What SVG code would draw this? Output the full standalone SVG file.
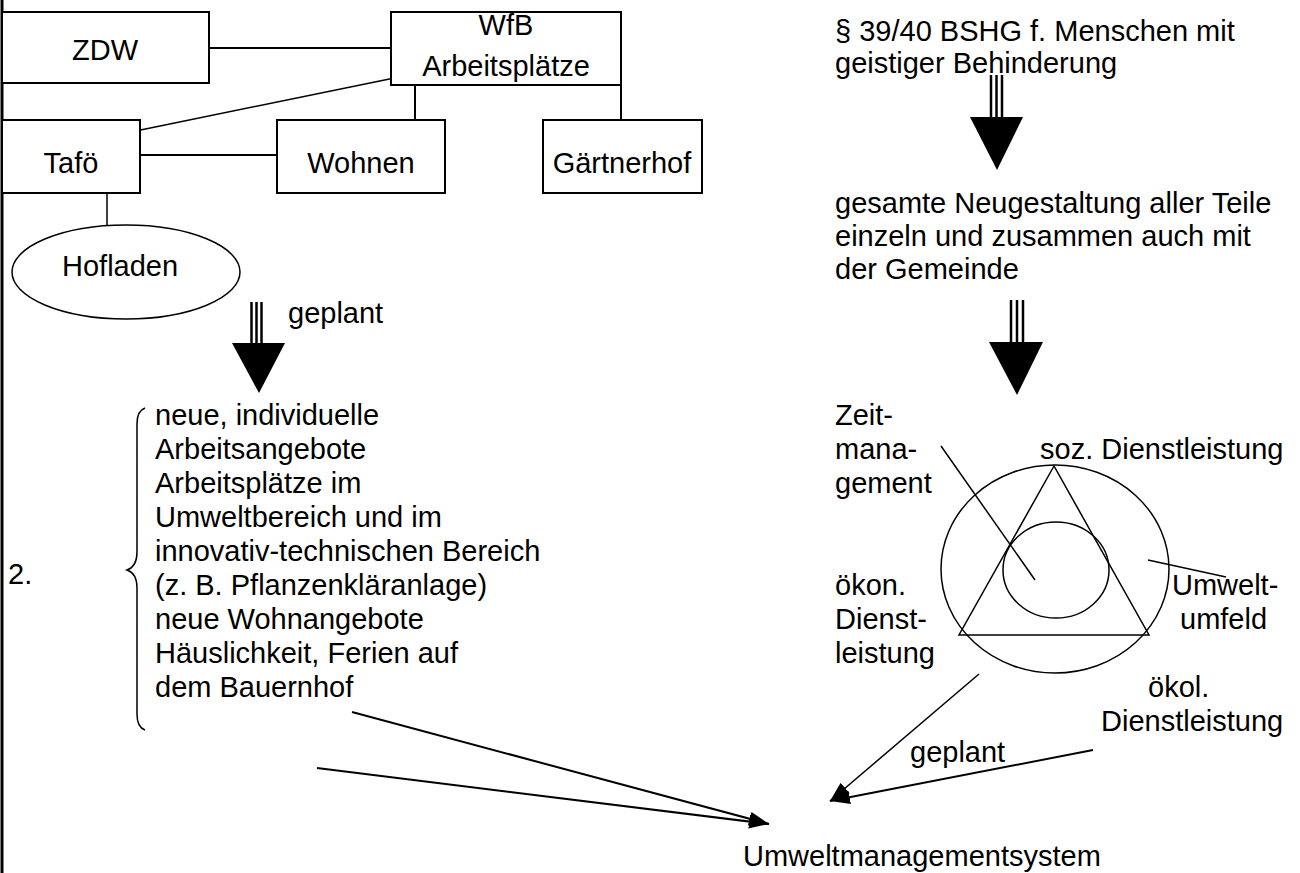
<svg xmlns="http://www.w3.org/2000/svg" width="1300" height="873" viewBox="0 0 1300 873">
<defs>
<style>
text{font-family:"Liberation Sans",Arial,sans-serif;font-size:29px;fill:#000}
.box{fill:#fff;stroke:#000;stroke-width:2}
.ln{stroke:#000;stroke-width:2;fill:none}
.thin{stroke:#000;stroke-width:1.5;fill:none}
.tri{fill:#000;stroke:none}
.mid{text-anchor:middle}
</style>
<marker id="ah" markerUnits="userSpaceOnUse" markerWidth="22" markerHeight="16" refX="20" refY="7" orient="auto">
<path d="M0,0 L20,7 L0,14 z" fill="#000"/>
</marker>
</defs>
<rect width="1300" height="873" fill="#fff"/>
<line x1="2" y1="0" x2="2" y2="873" stroke="#000" stroke-width="3"/>

<g id="connectors">
<line class="ln" x1="209" y1="48" x2="391" y2="48"/>
<line class="thin" x1="409" y1="75" x2="126" y2="133"/>
<line class="ln" x1="415" y1="85" x2="415" y2="120"/>
<line class="ln" x1="621" y1="85" x2="621" y2="120"/>
<line class="ln" x1="140" y1="155" x2="277" y2="155"/>
<line class="thin" x1="107" y1="193" x2="107" y2="225"/>
<line class="ln" x1="352" y1="712" x2="769" y2="824" marker-end="url(#ah)"/>
<line class="ln" x1="317" y1="768" x2="769" y2="824" marker-end="url(#ah)"/>
<line class="thin" x1="979" y1="674" x2="830" y2="801" marker-end="url(#ah)"/>
<line class="ln" x1="1093" y1="750" x2="830" y2="801" marker-end="url(#ah)"/>
</g>

<g id="zdw"><rect class="box" x="2" y="12" width="207" height="71"/><text class="mid" x="105" y="60">ZDW</text></g>
<g id="wfb"><rect class="box" x="391" y="12" width="230" height="73"/><text class="mid" x="506" y="35">WfB</text><text class="mid" x="506" y="76">Arbeitsplätze</text></g>
<g id="tafo"><rect class="box" x="2" y="120" width="138" height="73"/><text class="mid" x="71" y="173">Tafö</text></g>
<g id="wohnen"><rect class="box" x="277" y="120" width="168" height="73"/><text class="mid" x="361" y="173">Wohnen</text></g>
<g id="gaertnerhof"><rect class="box" x="543" y="120" width="159" height="73"/><text class="mid" x="622" y="173">Gärtnerhof</text></g>
<g id="hofladen"><ellipse class="thin" cx="126" cy="272" rx="114" ry="47"/><text x="62" y="276">Hofladen</text></g>

<g id="arrow-left">
<line x1="251.5" y1="302" x2="251.5" y2="343" stroke="#000" stroke-width="2.5"/>
<line x1="256.5" y1="302" x2="256.5" y2="343" stroke="#000" stroke-width="2.5"/>
<line x1="261.5" y1="302" x2="261.5" y2="343" stroke="#000" stroke-width="2.5"/>
<polygon class="tri" points="232,343 285,343 259,393"/>
<text x="288" y="323">geplant</text>
</g>

<g id="left-block">
<path class="thin" d="M145,408 C139,410 137,416 137,424 L137,552 C137,562 133,568 127,570 C133,572 137,578 137,588 L137,714 C137,722 139,728 145,730"/>
<text x="8" y="584">2.</text>
<text x="155" y="425">neue, individuelle</text>
<text x="155" y="459">Arbeitsangebote</text>
<text x="155" y="493">Arbeitsplätze im</text>
<text x="155" y="527">Umweltbereich und im</text>
<text x="155" y="561">innovativ-technischen Bereich</text>
<text x="155" y="595">(z. B. Pflanzenkläranlage)</text>
<text x="155" y="629">neue Wohnangebote</text>
<text x="155" y="663">Häuslichkeit, Ferien auf</text>
<text x="155" y="697">dem Bauernhof</text>
</g>

<g id="bshg">
<text x="835" y="41">§ 39/40 BSHG f. Menschen mit</text>
<text x="835" y="73">geistiger Behinderung</text>
</g>
<g id="arrow-right-1">
<line x1="991" y1="75" x2="991" y2="117" stroke="#000" stroke-width="2.5"/>
<line x1="996.5" y1="75" x2="996.5" y2="117" stroke="#000" stroke-width="2.5"/>
<line x1="1002" y1="75" x2="1002" y2="117" stroke="#000" stroke-width="2.5"/>
<polygon class="tri" points="970,117 1023,117 997,170"/>
</g>
<g id="neugestaltung">
<text x="835" y="213">gesamte Neugestaltung aller Teile</text>
<text x="835" y="246">einzeln und zusammen auch mit</text>
<text x="835" y="279">der Gemeinde</text>
</g>
<g id="arrow-right-2">
<line x1="1011" y1="300" x2="1011" y2="342" stroke="#000" stroke-width="2.5"/>
<line x1="1017" y1="300" x2="1017" y2="342" stroke="#000" stroke-width="2.5"/>
<line x1="1023" y1="300" x2="1023" y2="342" stroke="#000" stroke-width="2.5"/>
<polygon class="tri" points="989,342 1043,342 1017,395"/>
</g>

<g id="circle-diagram">
<ellipse class="thin" cx="1055" cy="569" rx="114" ry="104"/>
<polygon class="thin" points="1054,466 959,635 1149,635"/>
<ellipse class="thin" cx="1056" cy="570" rx="53" ry="48"/>
<line class="thin" x1="941" y1="446" x2="1035" y2="580"/>
<line class="thin" x1="1148" y1="560" x2="1226" y2="577"/>
<text x="835" y="425">Zeit-</text>
<text x="835" y="459">mana-</text>
<text x="835" y="493">gement</text>
<text x="1040" y="459">soz. Dienstleistung</text>
<text x="835" y="595">ökon.</text>
<text x="835" y="629">Dienst-</text>
<text x="835" y="663">leistung</text>
<text x="1172" y="595">Umwelt-</text>
<text x="1180" y="629">umfeld</text>
<text x="1148" y="697">ökol.</text>
<text x="1101" y="731">Dienstleistung</text>
</g>
<g id="geplant-bottom"><text x="910" y="762">geplant</text></g>
<g id="ums"><text x="743" y="866">Umweltmanagementsystem</text></g>
</svg>
